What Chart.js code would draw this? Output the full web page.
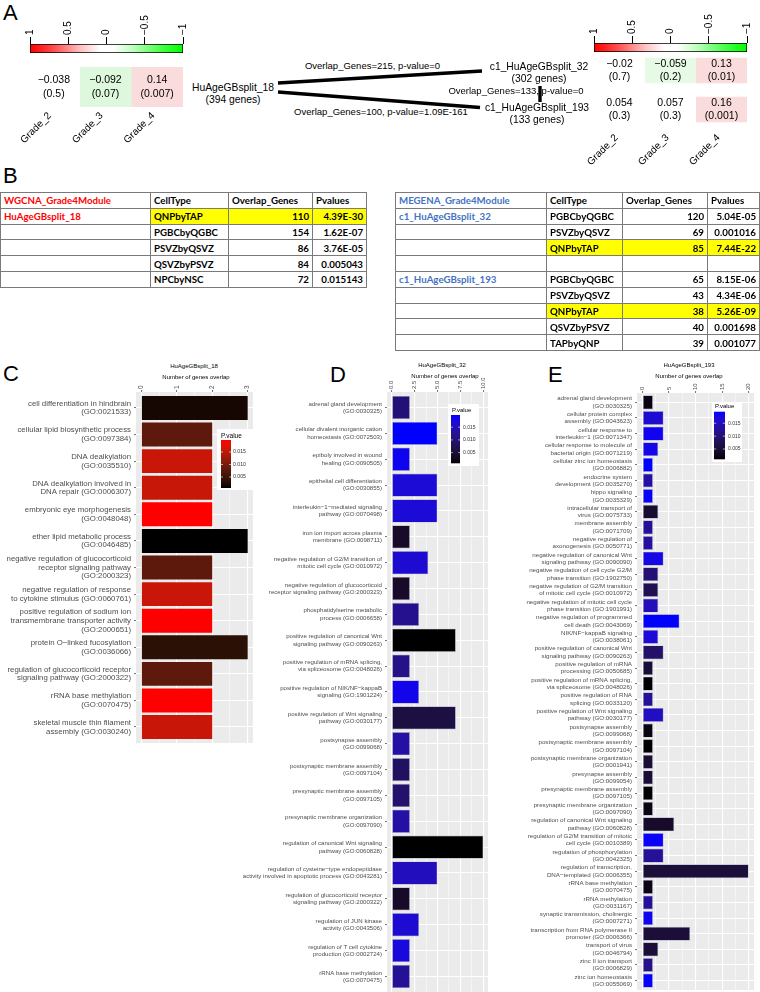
<!DOCTYPE html>
<html><head><meta charset="utf-8">
<script src="https://cdn.jsdelivr.net/npm/chart.js@4.4.1/dist/chart.umd.min.js"></script>
<style>
html,body{margin:0;padding:0;background:#fff;overflow:hidden;width:760px;height:992px}
#page{position:relative;width:760px;height:992px;overflow:hidden;font-family:"Liberation Sans",Arial,sans-serif;color:#000}
.t{position:absolute;white-space:nowrap;line-height:1}
canvas{position:absolute}
table.gt{position:absolute;border-collapse:collapse;table-layout:fixed;font-family:Lato,"Liberation Sans",sans-serif;font-weight:700;font-size:9.7px;color:#000}
table.gt tr{height:15.8px}
table.gt td{border:1px solid #7a7a7a;padding:0 3px;white-space:nowrap;overflow:hidden;line-height:12px}
table.gt td.num{text-align:right}
table.gt td.hl{background:#ffff00}
table.gt td.red{color:#ff0000}
table.gt td.blue{color:#4472c4}
</style></head>
<body><div id="page"></div>
<script>
// ================= DATA =================
const grades = ['Grade_2','Grade_3','Grade_4'];
const colorbarTicks = [1, 0.5, 0, -0.5, -1];
const wgcnaCorr  = [[-0.038, -0.092, 0.14]];
const wgcnaCorrP = [[0.5, 0.07, 0.007]];
const megenaCorr  = [[-0.02, -0.059, 0.13], [0.054, 0.057, 0.16]];
const megenaCorrP = [[0.7, 0.2, 0.01], [0.3, 0.3, 0.001]];

const networkNodes = ['HuAgeGBsplit_18','c1_HuAgeGBsplit_32','c1_HuAgeGBsplit_193'];
const networkNodeGenes = [394, 302, 133];
const networkEdgeOverlap = [215, 100, 133];
const networkEdgeP = ['0', '1.09E-161', '0'];

const tableHeaderLeft = ['WGCNA_Grade4Module','CellType','Overlap_Genes','Pvalues'];
const wgcnaModule = 'HuAgeGBsplit_18';
const wgcnaCellTypes = ['QNPbyTAP','PGBCbyQGBC','PSVZbyQSVZ','QSVZbyPSVZ','NPCbyNSC'];
const wgcnaOverlap = [110, 154, 86, 84, 72];
const wgcnaPvalues = ['4.39E-30','1.62E-07','3.76E-05','0.005043','0.015143'];
const tableHeaderRight = ['MEGENA_Grade4Module','CellType','Overlap_Genes','Pvalues'];
const megenaModules = ['c1_HuAgeGBsplit_32','c1_HuAgeGBsplit_193'];
const megenaCellTypes = [['PGBCbyQGBC','PSVZbyQSVZ','QNPbyTAP'], ['PGBCbyQGBC','PSVZbyQSVZ','QNPbyTAP','QSVZbyPSVZ','TAPbyQNP']];
const megenaOverlap = [[120, 69, 85], [65, 43, 38, 40, 39]];
const megenaPvalues = [['5.04E-05','0.001016','7.44E-22'], ['8.15E-06','4.34E-06','5.26E-09','0.001698','0.001077']];
const highlightCellType = 'QNPbyTAP';

const legendTicks = [0.005, 0.010, 0.015];

const goC_title = 'HuAgeGBsplit_18';
const goC_terms = [
 ['cell differentiation in hindbrain','(GO:0021533)'],
 ['cellular lipid biosynthetic process','(GO:0097384)'],
 ['DNA dealkylation','(GO:0035510)'],
 ['DNA dealkylation involved in','DNA repair (GO:0006307)'],
 ['embryonic eye morphogenesis','(GO:0048048)'],
 ['ether lipid metabolic process','(GO:0046485)'],
 ['negative regulation of glucocorticoid','receptor signaling pathway','(GO:2000323)'],
 ['negative regulation of response','to cytokine stimulus (GO:0060761)'],
 ['positive regulation of sodium ion','transmembrane transporter activity','(GO:2000651)'],
 ['protein O\u2212linked fucosylation','(GO:0036066)'],
 ['regulation of glucocorticoid receptor','signaling pathway (GO:2000322)'],
 ['rRNA base methylation','(GO:0070475)'],
 ['skeletal muscle thin filament','assembly (GO:0030240)']];
const goC_genes = [3,2,2,2,2,3,2,2,2,3,2,2,2];
const goC_pvalues = [0.0017,0.0079,0.016,0.0158,0.0198,0.0006,0.0079,0.016,0.0198,0.0035,0.0079,0.0198,0.016];

const goD_title = 'HuAgeGBsplit_32';
const goD_terms = [
 ['adrenal gland development','(GO:0030325)'],
 ['cellular divalent inorganic cation','homeostasis (GO:0072503)'],
 ['epiboly involved in wound','healing (GO:0090505)'],
 ['epithelial cell differentiation','(GO:0030855)'],
 ['interleukin\u22121\u2212mediated signaling','pathway (GO:0070498)'],
 ['iron ion import across plasma','membrane (GO:0098711)'],
 ['negative regulation of G2/M transition of','mitotic cell cycle (GO:0010972)'],
 ['negative regulation of glucocorticoid','receptor signaling pathway (GO:2000323)'],
 ['phosphatidylserine metabolic','process (GO:0006658)'],
 ['positive regulation of canonical Wnt','signaling pathway (GO:0090263)'],
 ['positive regulation of mRNA splicing,','via spliceosome (GO:0048026)'],
 ['positive regulation of NIK/NF\u2212kappaB','signaling (GO:1901224)'],
 ['positive regulation of Wnt signaling','pathway (GO:0030177)'],
 ['postsynapse assembly','(GO:0099068)'],
 ['postsynaptic membrane assembly','(GO:0097104)'],
 ['presynaptic membrane assembly','(GO:0097105)'],
 ['presynaptic membrane organization','(GO:0097090)'],
 ['regulation of canonical Wnt signaling','pathway (GO:0060828)'],
 ['regulation of cysteine\u2212type endopeptidase','activity involved in apoptotic process (GO:0043281)'],
 ['regulation of glucocorticoid receptor','signaling pathway (GO:2000322)'],
 ['regulation of JUN kinase','activity (GO:0043506)'],
 ['regulation of T cell cytokine','production (GO:0002724)'],
 ['rRNA base methylation','(GO:0070475)']];
const goD_genes = [2,5,2,5,5,2,4,2,3,7,2,3,7,2,2,2,2,10,5,2,3,2,2];
const goD_pvalues = [0.0103,0.0198,0.0188,0.0171,0.0171,0.0039,0.0168,0.0039,0.0120,0.0008,0.0115,0.0185,0.0060,0.0137,0.0086,0.0095,0.0137,0.0008,0.0153,0.0039,0.0168,0.0175,0.0125];

const goE_title = 'HuAgeGBsplit_193';
const goE_terms = [
 ['adrenal gland development','(GO:0030325)'],
 ['cellular protein complex','assembly (GO:0043623)'],
 ['cellular response to','interleukin\u22121 (GO:0071347)'],
 ['cellular response to molecule of','bacterial origin (GO:0071219)'],
 ['cellular zinc ion homeostasis','(GO:0006882)'],
 ['endocrine system','development (GO:0035270)'],
 ['hippo signaling','(GO:0035329)'],
 ['intracellular transport of','virus (GO:0075733)'],
 ['membrane assembly','(GO:0071709)'],
 ['negative regulation of','axonogenesis (GO:0050771)'],
 ['negative regulation of canonical Wnt','signaling pathway (GO:0090090)'],
 ['negative regulation of cell cycle G2/M','phase transition (GO:1902750)'],
 ['negative regulation of G2/M transition','of mitotic cell cycle (GO:0010972)'],
 ['negative regulation of mitotic cell cycle','phase transition (GO:1901991)'],
 ['negative regulation of programmed','cell death (GO:0043069)'],
 ['NIK/NF\u2212kappaB signaling','(GO:0038061)'],
 ['positive regulation of canonical Wnt','signaling pathway (GO:0090263)'],
 ['positive regulation of mRNA','processing (GO:0050685)'],
 ['positive regulation of mRNA splicing,','via spliceosome (GO:0048026)'],
 ['positive regulation of RNA','splicing (GO:0033120)'],
 ['positive regulation of Wnt signaling','pathway (GO:0030177)'],
 ['postsynapse assembly','(GO:0099068)'],
 ['postsynaptic membrane assembly','(GO:0097104)'],
 ['postsynaptic membrane organization','(GO:0001941)'],
 ['presynapse assembly','(GO:0099054)'],
 ['presynaptic membrane assembly','(GO:0097105)'],
 ['presynaptic membrane organization','(GO:0097090)'],
 ['regulation of canonical Wnt signaling','pathway (GO:0060828)'],
 ['regulation of G2/M transition of mitotic','cell cycle (GO:0010389)'],
 ['regulation of phosphorylation','(GO:0042325)'],
 ['regulation of transcription,','DNA\u2212templated (GO:0006355)'],
 ['rRNA base methylation','(GO:0070475)'],
 ['rRNA methylation','(GO:0031167)'],
 ['synaptic transmission, cholinergic','(GO:0007271)'],
 ['transcription from RNA polymerase II','promoter (GO:0006366)'],
 ['transport of virus','(GO:0046794)'],
 ['zinc II ion transport','(GO:0006829)'],
 ['zinc ion homeostasis','(GO:0055069)']];
const goE_genes = [2,4,4,3,2,2,2,3,2,2,4,3,3,3,7,3,4,2,2,2,4,2,2,2,2,2,2,6,4,4,20,2,2,2,9,3,2,2];
const goE_pvalues = [0.0019,0.0165,0.0185,0.0180,0.0195,0.0135,0.0192,0.0047,0.0125,0.0133,0.0178,0.0100,0.0075,0.0150,0.0195,0.0168,0.0090,0.0050,0.0012,0.0125,0.0155,0.0020,0.0010,0.0050,0.0050,0.0010,0.0020,0.0040,0.0190,0.0125,0.0055,0.0020,0.0125,0.0185,0.0055,0.0055,0.0115,0.0192];

// ================= HELPERS =================
const page = document.getElementById('page');
Chart.defaults.font.family = '"Liberation Sans", Arial, sans-serif';
Chart.defaults.animation = false;
Chart.defaults.responsive = false;
Chart.defaults.maintainAspectRatio = false;
Chart.defaults.plugins.legend.display = false;
Chart.defaults.plugins.tooltip.enabled = false;

function mkCanvas(c){
  const cv = document.createElement('canvas');
  cv.width = c.width; cv.height = c.height;
  cv.style.left = c.left + 'px'; cv.style.top = c.top + 'px';
  cv.style.width = c.width + 'px'; cv.style.height = c.height + 'px';
  page.appendChild(cv); return cv;
}
// build a chart, then size/position its canvas so the plot area lands on `area` (page px)
function placeChart(area, guess, build){
  let w = guess.w, h = guess.h, cv = null, chart = null;
  const off = {x: 0, y: 0};
  for (let it = 0; it < 5; it++){
    if (chart){ chart.destroy(); cv.remove(); }
    cv = mkCanvas({left: 0, top: 0, width: w, height: h});
    chart = build(cv, off);
    const a = chart.chartArea;
    const nw = Math.round(w + area.width - (a.right - a.left));
    const nh = Math.round(h + area.height - (a.bottom - a.top));
    if (nw === w && nh === h) break;
    w = nw; h = nh;
  }
  const a = chart.chartArea;
  const L = Math.round(area.left - a.left), T = Math.round(area.top - a.top);
  cv.style.left = L + 'px'; cv.style.top = T + 'px';
  off.x = L; off.y = T; chart.draw();
  return chart;
}
function txt(s, x, y, o){
  o = o || {};
  const d = document.createElement('div'); d.className = 't'; d.textContent = s;
  d.style.fontSize = (o.size || 10.3) + 'px';
  d.style.left = x + 'px'; d.style.top = y + 'px';
  const ax = o.align === 'left' ? '0' : (o.align === 'right' ? '-100%' : '-50%');
  d.style.transform = 'translate(' + ax + ',-50%)';
  if (o.color) d.style.color = o.color;
  page.appendChild(d); return d;
}
function fixX(h){ return s => { s.height = h; s.paddingLeft = 0; s.paddingRight = 0; }; }
function fixY(w){ return s => { s.width = w; s.paddingTop = 0; s.paddingBottom = 0; }; }
function fmtNum(v){ return v < 0 ? '\u2212' + String(-v) : String(v); }
function hexToRgb(h){ return [1,3,5].map(i => parseInt(h.substr(i,2),16)); }
function rgbToLab(c){
  const lin = x => { x /= 255; return x <= 0.04045 ? x/12.92 : Math.pow((x+0.055)/1.055, 2.4); };
  const R = lin(c[0]), G = lin(c[1]), B = lin(c[2]);
  const X = (0.4124564*R + 0.3575761*G + 0.1804375*B)/0.95047;
  const Y = (0.2126729*R + 0.7151522*G + 0.0721750*B);
  const Z = (0.0193339*R + 0.1191920*G + 0.9503041*B)/1.08883;
  const f = t => t > 0.008856 ? Math.cbrt(t) : (7.787*t + 16/116);
  const fx = f(X), fy = f(Y), fz = f(Z);
  return [116*fy - 16, 500*(fx - fy), 200*(fy - fz)];
}
function labToRgb(l){
  const fy = (l[0]+16)/116, fx = fy + l[1]/500, fz = fy - l[2]/200;
  const fi = t => { const t3 = t*t*t; return t3 > 0.008856 ? t3 : (t - 16/116)/7.787; };
  const X = fi(fx)*0.95047, Y = fi(fy), Z = fi(fz)*1.08883;
  const R = 3.2404542*X - 1.5371385*Y - 0.4985314*Z;
  const G = -0.9692660*X + 1.8760108*Y + 0.0415560*Z;
  const B = 0.0556434*X - 0.2040259*Y + 1.0572252*Z;
  const g = c => { c = c <= 0.0031308 ? 12.92*c : 1.055*Math.pow(c, 1/2.4) - 0.055; return Math.round(Math.min(1, Math.max(0, c))*255); };
  return [g(R), g(G), g(B)];
}
function labMix(c0, c1, t){
  const a = rgbToLab(hexToRgb(c0)), b = rgbToLab(hexToRgb(c1));
  const m = a.map((v,i) => v + (b[i]-v)*t);
  const r = labToRgb(m); return 'rgb(' + r[0] + ',' + r[1] + ',' + r[2] + ')';
}
function rgbMix(c0, c1, t){
  const a = hexToRgb(c0), b = hexToRgb(c1);
  const r = a.map((v,i) => Math.round(v + (b[i]-v)*t));
  return 'rgb(' + r[0] + ',' + r[1] + ',' + r[2] + ')';
}
// binned green-white-red palette (50 bins over [-1,1])
function heatColor(v){
  const b = Math.floor((v + 1)/2*50);
  if (b >= 24 && b <= 26) return '#ffffff';
  if (b < 24) return rgbMix('#ffffff', '#00cc00', 0.06 + 0.9*(24-b)/24);
  return rgbMix('#ffffff', '#dd0000', 0.06 + 0.9*(b-26)/23);
}

// ================= STYLE / LAYOUT =================
const colorbarStops = [[0,'#ff0000'],[0.14,'#ff4444'],[0.33,'#ffc0c0'],[0.46,'#ffffff'],[0.54,'#ffffff'],[0.67,'#c0ffc0'],[0.86,'#44ff44'],[1,'#00ff00']];

// ================= PANEL LETTERS =================
txt('A', 3, 12.5, {size:22, align:'left'});
txt('B', 3, 175.5, {size:22, align:'left'});
txt('C', 3, 373.5, {size:22, align:'left'});
txt('D', 330, 374.5, {size:22, align:'left'});
txt('E', 548, 374.5, {size:22, align:'left'});

// ================= PANEL A =================
function makeColorbar(L){
  placeChart(L.area, {w: 175, h: 55}, (cv) => new Chart(cv, {
    type: 'bar',
    data: { labels: [''], datasets: [{
      data: [[colorbarTicks[colorbarTicks.length-1], colorbarTicks[0]]],
      backgroundColor: (ctx) => {
        const a = ctx.chart.chartArea; if (!a) return '#ffffff';
        const g = ctx.chart.ctx.createLinearGradient(a.left, 0, a.right, 0);
        colorbarStops.forEach(s => g.addColorStop(s[0], s[1])); return g;
      },
      borderColor: '#000', borderWidth: 1, borderSkipped: false, barPercentage: 1, categoryPercentage: 1 }] },
    options: { indexAxis: 'y', layout: { padding: {left: 10, right: 10, top: 0, bottom: 1} },
      scales: {
        x: { type: 'linear', position: 'top', reverse: true, min: -1, max: 1,
             afterBuildTicks: s => { s.ticks = colorbarTicks.map(v => ({value: v})); },
             afterFit: fixX(L.area.top),
             ticks: { autoSkip: false, minRotation: 90, maxRotation: 90, padding: 2, labelOffset: 12, font: {size: 10}, color: '#000', callback: v => fmtNum(v) },
             grid: { drawOnChartArea: false, drawTicks: true, tickLength: 7, tickColor: '#000', tickWidth: 1 },
             border: { display: false } },
        y: { display: false } } }
  }));
}
function makeHeat(L, corr, pv){
  const cellText = { id: 'cellText', afterDatasetsDraw(chart){
    const ctx = chart.ctx; ctx.save();
    ctx.font = L.font + 'px "Liberation Sans", Arial'; ctx.fillStyle = '#000'; ctx.textAlign = 'center'; ctx.textBaseline = 'middle';
    grades.forEach((g, j) => {
      chart.getDatasetMeta(j).data.forEach((el, i) => {
        const cx = (el.x + el.base)/2, cy = el.y;
        ctx.fillText(fmtNum(corr[i][j]), cx, cy - L.lineGap/2);
        ctx.fillText('(' + String(pv[i][j]) + ')', cx, cy + L.lineGap/2);
      });
    });
    ctx.restore();
  }};
  placeChart(L.area, {w: 171, h: L.area.height + 40}, (cv) => new Chart(cv, {
    type: 'bar',
    data: { labels: corr.map((_, i) => i),
      datasets: grades.map((g, j) => ({ data: corr.map(() => 1), backgroundColor: corr.map(r => heatColor(r[j])),
        borderWidth: 0, barPercentage: L.barPct, categoryPercentage: 1 })) },
    options: { indexAxis: 'y', layout: { padding: {left: 10, right: 6, top: 0, bottom: 0} },
      scales: {
        x: { type: 'linear', stacked: true, min: 0, max: grades.length,
             afterBuildTicks: s => { s.ticks = grades.map((_, j) => ({value: j + 0.5})); },
             afterFit: fixX(40),
             ticks: { autoSkip: false, minRotation: 45, maxRotation: 45, padding: L.tickPad, labelOffset: L.labelOffset, font: {size: 10}, color: '#000', callback: (v, i) => grades[i] },
             grid: { display: false, drawTicks: false }, border: { display: false } },
        y: { type: 'category', stacked: true, display: false } } },
    plugins: [cellText]
  }));
}
makeColorbar({ area: {left: 30, top: 44, width: 153, height: 9} });
makeColorbar({ area: {left: 594, top: 43, width: 153, height: 9} });
makeHeat({ area: {left: 28, top: 67, width: 155, height: 40}, barPct: 1, tickPad: 3, labelOffset: -4, font: 10.5, lineGap: 13.3 }, wgcnaCorr, wgcnaCorrP);
makeHeat({ area: {left: 594, top: 51, width: 153, height: 78}, barPct: 0.65, tickPad: 3, labelOffset: -3, font: 10.5, lineGap: 13.3 }, megenaCorr, megenaCorrP);

// network
const netLabelPos = [ {x: 233, y: 87.5, gy: 100}, {x: 539, y: 66.5, gy: 79}, {x: 537, y: 108, gy: 119.5} ];
const netEdgeLabelPos = [ {x: 372.5, y: 66}, {x: 381, y: 112}, {x: 516, y: 91} ];
networkNodes.forEach((n, i) => {
  txt(n, netLabelPos[i].x, netLabelPos[i].y, {size: 10.3});
  txt('(' + networkNodeGenes[i] + ' genes)', netLabelPos[i].x, netLabelPos[i].gy, {size: 10.3});
});
networkEdgeOverlap.forEach((ov, i) => {
  txt('Overlap_Genes=' + ov + ', p-value=' + networkEdgeP[i], netEdgeLabelPos[i].x, netEdgeLabelPos[i].y, {size: 9.5});
});
// edge anchor points (diagram layout, page pixel units)
const netEdgeEnds = [ [[278, 83], [482, 71]], [[278, 92], [480, 107.5]], [[540, 86], [540, 102]] ];
(function(){
  const cv = mkCanvas({left: 270, top: 60, width: 280, height: 55});
  new Chart(cv, { type: 'scatter',
    data: { datasets: netEdgeEnds.map(e => ({ data: e.map(p => ({x: p[0], y: p[1]})), showLine: true, borderColor: '#000', borderWidth: 3.4, pointRadius: 0, clip: false })) },
    options: { layout: { padding: 0 },
      scales: { x: { type: 'linear', min: 270, max: 550, display: false }, y: { type: 'linear', min: 60, max: 115, reverse: true, display: false } } }
  });
})();

// ================= PANEL B (tables) =================
function makeTable(left, top, widths, rows){
  const t = document.createElement('table'); t.className = 'gt';
  t.style.left = left + 'px'; t.style.top = top + 'px';
  t.style.width = widths.reduce((a, b) => a + b, 0) + 'px';
  const cg = document.createElement('colgroup');
  widths.forEach(w => { const c = document.createElement('col'); c.style.width = w + 'px'; cg.appendChild(c); });
  t.appendChild(cg);
  rows.forEach(r => {
    const tr = document.createElement('tr');
    r.forEach(c => { const td = document.createElement('td'); td.textContent = c.t; if (c.cls) td.className = c.cls; tr.appendChild(td); });
    t.appendChild(tr);
  });
  page.appendChild(t);
}
function cellRow(first, firstCls, ct, ov, pv){
  const hl = ct === highlightCellType ? ' hl' : '';
  return [ {t: first, cls: firstCls}, {t: ct, cls: hl.trim()}, {t: String(ov), cls: 'num' + hl}, {t: pv, cls: 'num' + hl} ];
}
(function(){
  const rows = [ tableHeaderLeft.map((h, i) => ({t: h, cls: i === 0 ? 'red' : ''})) ];
  wgcnaCellTypes.forEach((ct, i) => rows.push(cellRow(i === 0 ? wgcnaModule : '', 'red', ct, wgcnaOverlap[i], wgcnaPvalues[i])));
  makeTable(0, 192, [150, 78, 84, 54], rows);
  const rows2 = [ tableHeaderRight.map((h, i) => ({t: h, cls: i === 0 ? 'blue' : ''})) ];
  megenaModules.forEach((m, k) => {
    if (k > 0) rows2.push([{t: ''}, {t: ''}, {t: ''}, {t: ''}]);
    megenaCellTypes[k].forEach((ct, i) => rows2.push(cellRow(i === 0 ? m : '', 'blue', ct, megenaOverlap[k][i], megenaPvalues[k][i])));
  });
  makeTable(395, 192, [151, 76, 85, 52], rows2);
})();

// ================= PANELS C, D, E =================
function makeGO(L, terms, genes, pvals, title){
  const n = terms.length;
  const pmin = Math.min(...pvals), pmax = Math.max(...pvals);
  const colors = pvals.map(p => labMix('#000000', L.high, (p - pmin)/(pmax - pmin)));
  const isMajor = v => Math.abs(v/L.major - Math.round(v/L.major)) < 1e-6;
  const tickLH = L.tickFont * 1.2;
  placeChart(L.area, {w: Math.round(L.axisW + L.area.width + 8), h: Math.round(L.area.height + 30)}, (cv, off) => {
    const panelBg = { id: 'panelBg', beforeDraw(chart){
      const a = chart.chartArea, ctx = chart.ctx; ctx.save(); ctx.fillStyle = '#EBEBEB';
      ctx.fillRect(a.left, a.top, a.right - a.left, a.bottom - a.top); ctx.restore();
    }};
    const pLegend = { id: 'pLegend', afterDraw(chart){
      const ctx = chart.ctx, G = L.legend, ox = off.x, oy = off.y; ctx.save();
      ctx.fillStyle = '#FFFFFF'; ctx.fillRect(G.box[0]-ox, G.box[1]-oy, G.box[2], G.box[3]);
      ctx.fillStyle = '#000'; ctx.font = G.titleSize + 'px "Liberation Sans", Arial'; ctx.textAlign = 'left'; ctx.textBaseline = 'middle';
      ctx.fillText('P.value', G.title[0]-ox, G.title[1]-oy);
      const bx = G.bar[0]-ox, by = G.bar[1]-oy, bw = G.bar[2], bh = G.bar[3];
      const g = ctx.createLinearGradient(0, by + bh, 0, by);
      for (let k = 0; k <= 20; k++) g.addColorStop(k/20, labMix('#000000', L.high, k/20));
      ctx.fillStyle = g; ctx.fillRect(bx, by, bw, bh);
      ctx.font = G.labelSize + 'px "Liberation Sans", Arial';
      legendTicks.forEach(v => {
        const y = by + bh*(1 - (v - pmin)/(pmax - pmin));
        ctx.strokeStyle = '#FFFFFF'; ctx.lineWidth = 0.6; ctx.beginPath();
        ctx.moveTo(bx, y); ctx.lineTo(bx + bw*0.2, y); ctx.moveTo(bx + bw*0.8, y); ctx.lineTo(bx + bw, y); ctx.stroke();
        ctx.fillStyle = '#333'; ctx.fillText(v.toFixed(3), G.labelX - ox, y);
      });
      ctx.restore();
    }};
    return new Chart(cv, {
      type: 'bar',
      data: { datasets: [{ data: genes.map((v, i) => ({x: v, y: i})), backgroundColor: colors,
        borderColor: L.border || 'rgba(0,0,0,0)', borderWidth: L.border ? 0.7 : 0, borderSkipped: false,
        barPercentage: 0.9, categoryPercentage: 1 }] },
      options: { indexAxis: 'y', layout: { padding: { left: 0, top: 0, right: 8, bottom: 12 } },
        scales: {
          x: { type: 'linear', position: 'top', min: L.xmin, max: L.xmax,
               afterBuildTicks: s => { const t = []; for (let k = 0; k*L.minor <= L.tickMax + 1e-9; k++) t.push({value: +(k*L.minor).toFixed(4)}); s.ticks = t; },
               afterFit: fixX(14),
               ticks: { autoSkip: false, minRotation: 90, maxRotation: 90, padding: 1, labelOffset: tickLH, font: {size: L.tickFont}, color: '#4D4D4D', callback: v => isMajor(v) ? L.fmt(v) : '' },
               grid: { color: '#FFFFFF', lineWidth: c => (c.tick && isMajor(c.tick.value)) ? 1.1 : 0.5, drawTicks: true, tickLength: 2, tickWidth: 0.7,
                       tickColor: c => (c.tick && isMajor(c.tick.value)) ? '#333333' : 'rgba(0,0,0,0)' },
               border: { display: false } },
          y: { type: 'linear', reverse: true, min: -0.6, max: n - 0.4, offset: false,
               afterBuildTicks: s => { s.ticks = terms.map((_, i) => ({value: i})); },
               afterFit: fixY(L.axisW),
               ticks: { autoSkip: false, padding: 3, font: {size: L.labelFont, lineHeight: L.labelLH}, color: '#4D4D4D', callback: v => terms[v] },
               grid: { offset: false, color: '#FFFFFF', lineWidth: 1.1, drawTicks: true, tickLength: 2, tickWidth: 0.7, tickColor: '#333333' },
               border: { display: false } } } },
      plugins: [panelBg, pLegend]
    });
  });
  txt(title, L.titlePos[0], L.titlePos[1], {size: L.titleFont});
  txt('Number of genes overlap', L.subPos[0], L.subPos[1], {size: L.titleFont});
}

makeGO({ area: {left: 136, top: 392, width: 116.5, height: 350.6}, axisW: 136,
  high: '#FF0000', xmin: -0.15, xmax: 3.15, major: 1, minor: 0.5, tickMax: 3, fmt: v => String(v),
  labelFont: 7.8, labelLH: 1.12, tickFont: 6.5, border: null, titleFont: 6, titlePos: [194, 366], subPos: [196, 376.5],
  legend: { box: [217, 429, 40, 61], title: [221, 436], titleSize: 6.5, bar: [221, 440, 10, 48], labelX: 233, labelSize: 5.2 } },
  goC_terms, goC_genes, goC_pvalues, goC_title);

makeGO({ area: {left: 387, top: 392, width: 101, height: 600}, axisW: 148,
  high: '#0000FF', xmin: -0.5, xmax: 10.5, major: 2.5, minor: 1.25, tickMax: 10, fmt: v => v.toFixed(1),
  labelFont: 6.1, labelLH: 1.2, tickFont: 6, border: 'rgba(160,160,190,0.8)', titleFont: 6, titlePos: [442, 364.5], subPos: [445, 375.5],
  legend: { box: [448, 404, 31, 62], title: [452, 410], titleSize: 6, bar: [451, 415, 9, 48.3], labelX: 463, labelSize: 5 } },
  goD_terms, goD_genes, goD_pvalues, goD_title);

makeGO({ area: {left: 637, top: 393, width: 116.5, height: 597}, axisW: 125,
  high: '#0000FF', xmin: -1, xmax: 21, major: 5, minor: 2.5, tickMax: 20, fmt: v => String(v),
  labelFont: 6.2, labelLH: 1.18, tickFont: 6, border: 'rgba(160,160,190,0.8)', titleFont: 6, titlePos: [689, 364.5], subPos: [689, 375.5],
  legend: { box: [712, 402, 30, 60], title: [715, 406.5], titleSize: 6, bar: [714, 411.7, 11, 47.6], labelX: 728, labelSize: 5 } },
  goE_terms, goE_genes, goE_pvalues, goE_title);
</script>
</body></html>
